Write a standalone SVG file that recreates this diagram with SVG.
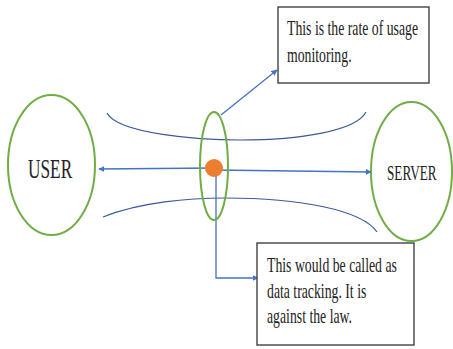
<svg xmlns="http://www.w3.org/2000/svg" width="453" height="349" viewBox="0 0 453 349">
<style>
.node{fill:none;stroke:#70AD47;stroke-width:2}
.conn{fill:none;stroke:#4472C4;stroke-width:1.3}
.curve{fill:none;stroke:#3A5A9A;stroke-width:1.2}
.box{fill:#fff;stroke:#333;stroke-width:1.3}
text{font-family:"Liberation Serif","Times New Roman",serif;fill:#222}
.bt{font-size:21px}
</style>
<defs>
<marker id="ah" viewBox="0 0 10 10" refX="9" refY="5" markerWidth="6" markerHeight="6" markerUnits="userSpaceOnUse" orient="auto">
<path d="M0,0 L10,5 L0,10 z" fill="#4472C4"/>
</marker>
</defs>
<rect width="453" height="349" fill="#fff"/>
<g id="curves">
<path class="curve" d="M107,113 C118,134 200,140 240,140 C300,140 356,131 366,112"/>
<path class="curve" d="M103,217 C140,202 190,198 225,198 C300,198 362,210 377,232"/>
</g>
<g id="user">
<ellipse class="node" cx="51.5" cy="165" rx="43.5" ry="70"/>
<text transform="translate(28,178) scale(0.64,1)" font-size="27">USER</text>
</g>
<g id="server">
<ellipse class="node" cx="411.5" cy="171.5" rx="40.5" ry="69.5"/>
<text transform="translate(387,180) scale(0.63,1)" font-size="21">SERVER</text>
</g>
<g id="connectors">
<line class="conn" x1="214" y1="168" x2="99" y2="169" marker-end="url(#ah)"/>
<line class="conn" x1="214" y1="170" x2="371" y2="172" marker-end="url(#ah)"/>
<line class="conn" x1="221" y1="115" x2="277" y2="70" marker-end="url(#ah)"/>
<polyline class="conn" points="216,170 216,278 258,278" marker-end="url(#ah)"/>
</g>
<g id="monitor">
<ellipse class="node" cx="214" cy="166" rx="14" ry="54"/>
<circle cx="214" cy="168" r="9" fill="#ED7D31"/>
</g>
<g id="box-top">
<rect class="box" x="278" y="7" width="151" height="76"/>
<g transform="translate(287,0) scale(0.655,1)">
<text class="bt" x="0" y="35">This is the rate of usage</text>
<text class="bt" x="0" y="62">monitoring.</text>
</g>
</g>
<g id="box-bottom">
<rect class="box" x="257" y="243" width="157" height="102"/>
<g transform="translate(267,0) scale(0.655,1)">
<text class="bt" x="0" y="272">This would be called as</text>
<text class="bt" x="0" y="298">data tracking. It is</text>
<text class="bt" x="0" y="323">against the law.</text>
</g>
</g>
</svg>
